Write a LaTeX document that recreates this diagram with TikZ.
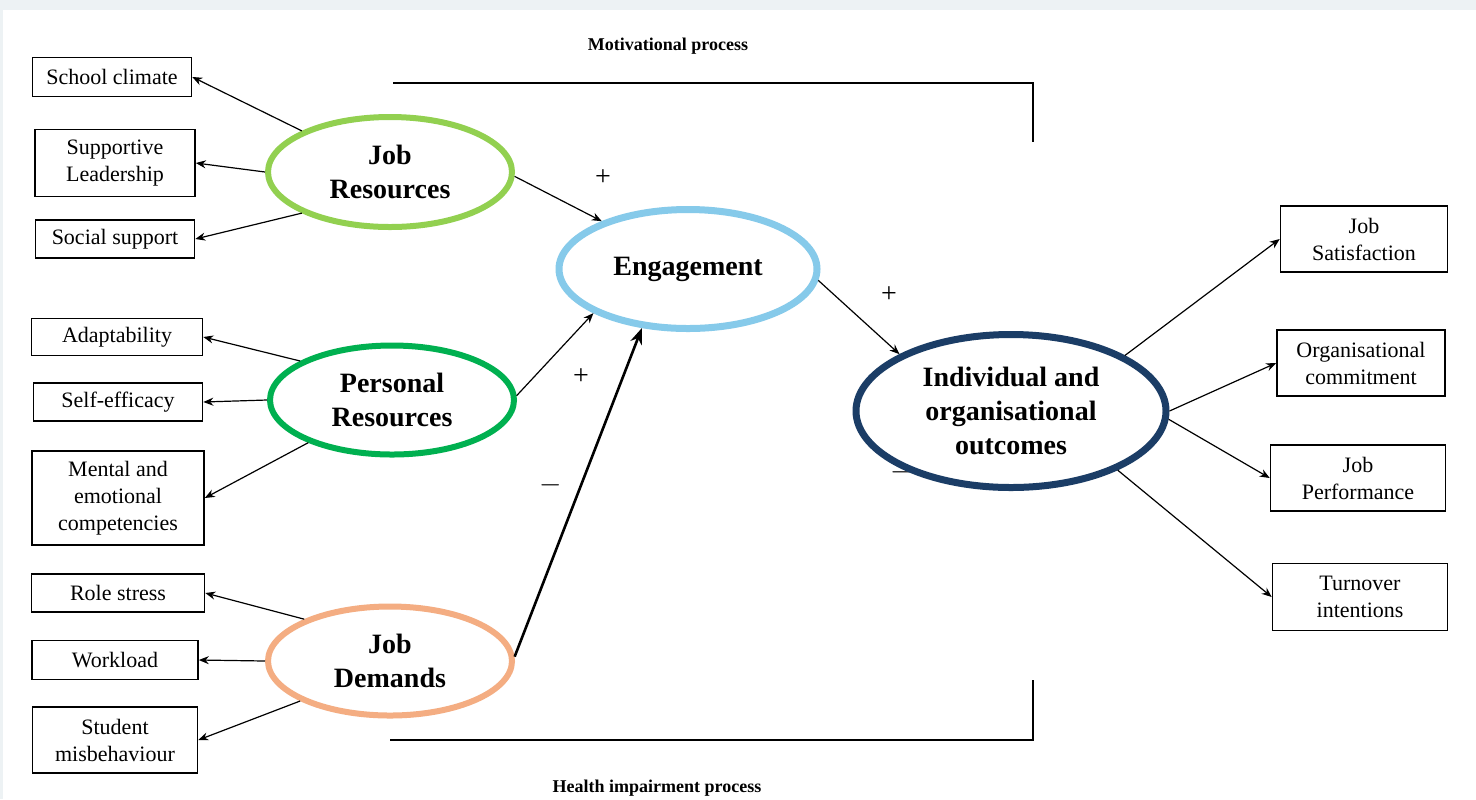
\documentclass[tikz,border=0pt]{standalone}
\usepackage{fontspec}
\setmainfont{Liberation Serif}
\usetikzlibrary{shapes.geometric,arrows.meta}
\definecolor{jrgreen}{HTML}{92D050}
\definecolor{prgreen}{HTML}{00B050}
\definecolor{jdorange}{HTML}{F4AD82}
\definecolor{engblue}{HTML}{86CAEA}
\definecolor{outnavy}{HTML}{1B3D66}
\definecolor{frame}{HTML}{EDF2F4}

\begin{document}
\begin{tikzpicture}[x=0.5pt,y=-0.5pt,
    factor/.style={draw,line width=0.8pt,align=center,inner sep=0pt,
        font=\fontsize{11}{13.5}\selectfont},
    latent/.style={ellipse,draw,fill=white,line width=3pt,align=center,inner sep=0pt,
        font=\fontsize{14}{17}\selectfont\bfseries},
    arr/.style={line width=0.6pt,-{Stealth[length=5pt,width=4pt]}},
    sign/.style={font=\fontsize{14}{14}\selectfont}]
    \useasboundingbox (0,0) rectangle (1476,799);

    % Тло
    \fill[frame] (0,0) rectangle (1476,799);
    \fill[white] (3,10) rectangle (1476,799);

    % Підписи процесів
    \node[font=\fontsize{9}{11}\selectfont\bfseries] (mot) at (668,46) {Motivational process};
    \node[font=\fontsize{9}{11}\selectfont\bfseries] (hip) at (657,788) {Health impairment process};

    % Дужки
    \draw[line width=1pt] (393,83) -- (1033,83) -- (1033,142);
    \draw[line width=1pt] (390,740) -- (1033,740) -- (1033,680);

    % Ліві прямокутники
    \node[factor,minimum width=79.5pt,minimum height=19.5pt] (clim) at (112,77) {School climate};
    \node[factor,minimum width=80pt,minimum height=33.5pt] (lead) at (115,163) {Supportive\\Leadership};
    \node[factor,minimum width=79.5pt,minimum height=19pt] (soc) at (115,239) {Social support};
    \node[factor,minimum width=85.5pt,minimum height=18.5pt] (adap) at (117,337) {Adaptability};
    \node[factor,minimum width=84.5pt,minimum height=19pt] (self) at (118,402) {Self-efficacy};
    \node[factor,minimum width=86pt,minimum height=47pt] (ment) at (118,498) {Mental and\\emotional\\competencies};
    \node[factor,minimum width=86.5pt,minimum height=19pt] (role) at (118,593) {Role stress};
    \node[factor,minimum width=83pt,minimum height=19.5pt] (work) at (115,660) {Workload};
    \node[factor,minimum width=82.5pt,minimum height=33pt] (stud) at (115,740) {Student\\misbehaviour};

    % Праві прямокутники
    \node[factor,minimum width=83.5pt,minimum height=33pt] (js) at (1364,239) {Job\\Satisfaction};
    \node[factor,minimum width=84pt,minimum height=33pt] (oc) at (1361,363) {Organisational\\commitment};
    \node[factor,minimum width=87.5pt,minimum height=33pt] (jp) at (1358,478) {Job\\Performance};
    \node[factor,minimum width=87.5pt,minimum height=33.5pt] (ti) at (1360,597) {Turnover\\intentions};

    % Знак під еліпсом
    \node[sign] (hid) at (902,472) {$-$};

    % Еліпси
    \node[latent,draw=jrgreen,minimum width=122pt,minimum height=55pt] (jr) at (390,172) {Job\\Resources};
    \node[latent,draw=prgreen,minimum width=122pt,minimum height=54.5pt] (pr) at (392,400) {Personal\\Resources};
    \node[latent,draw=jdorange,minimum width=122pt,minimum height=54.5pt] (jd) at (390,661) {Job\\Demands};
    \node[latent,draw=engblue,line width=3.5pt,minimum width=129pt,minimum height=59.5pt] (eng) at (688,269) {Engagement};
    \node[latent,draw=outnavy,line width=3.5pt,minimum width=155pt,minimum height=76.5pt] (out) at (1011,411) {Individual and\\organisational\\outcomes};

    % Стрілки до чинників
    \draw[arr] (jr.155) -- (clim.east);
    \draw[arr] (jr.west) -- (lead.east);
    \draw[arr] (jr.205) -- (soc.east);
    \draw[arr] (pr.157) -- (adap.east);
    \draw[arr] (pr.west) -- (self.east);
    \draw[arr] (pr.207) -- (ment.east);
    \draw[arr] (jd.154) -- (role.east);
    \draw[arr] (jd.west) -- (work.east);
    \draw[arr] (jd.204) -- (stud.east);

    % Стрілки до залученості
    \draw[arr] (jr.-2) -- (eng.151);
    \draw[arr] (pr.2) -- (eng.205);
    \draw[line width=1.3pt,-{Stealth[length=8pt,width=6pt]}] (jd.2) -- (eng.232);
    \draw[arr] (eng.-5) -- (out.153);

    % Стрілки до наслідків
    \draw[arr] (out.26) -- (js.west);
    \draw[arr] (out.east) -- (oc.west);
    \draw[arr] (out.-3) -- (jp.west);
    \draw[arr] (out.-29) -- (ti.west);

    % Знаки
    \node[sign] (p1) at (603,178) {+};
    \node[sign] (p2) at (581,377) {+};
    \node[sign] (m1) at (551,485) {$-$};
    \node[sign] (p3) at (889,295) {+};
\end{tikzpicture}
\end{document}
